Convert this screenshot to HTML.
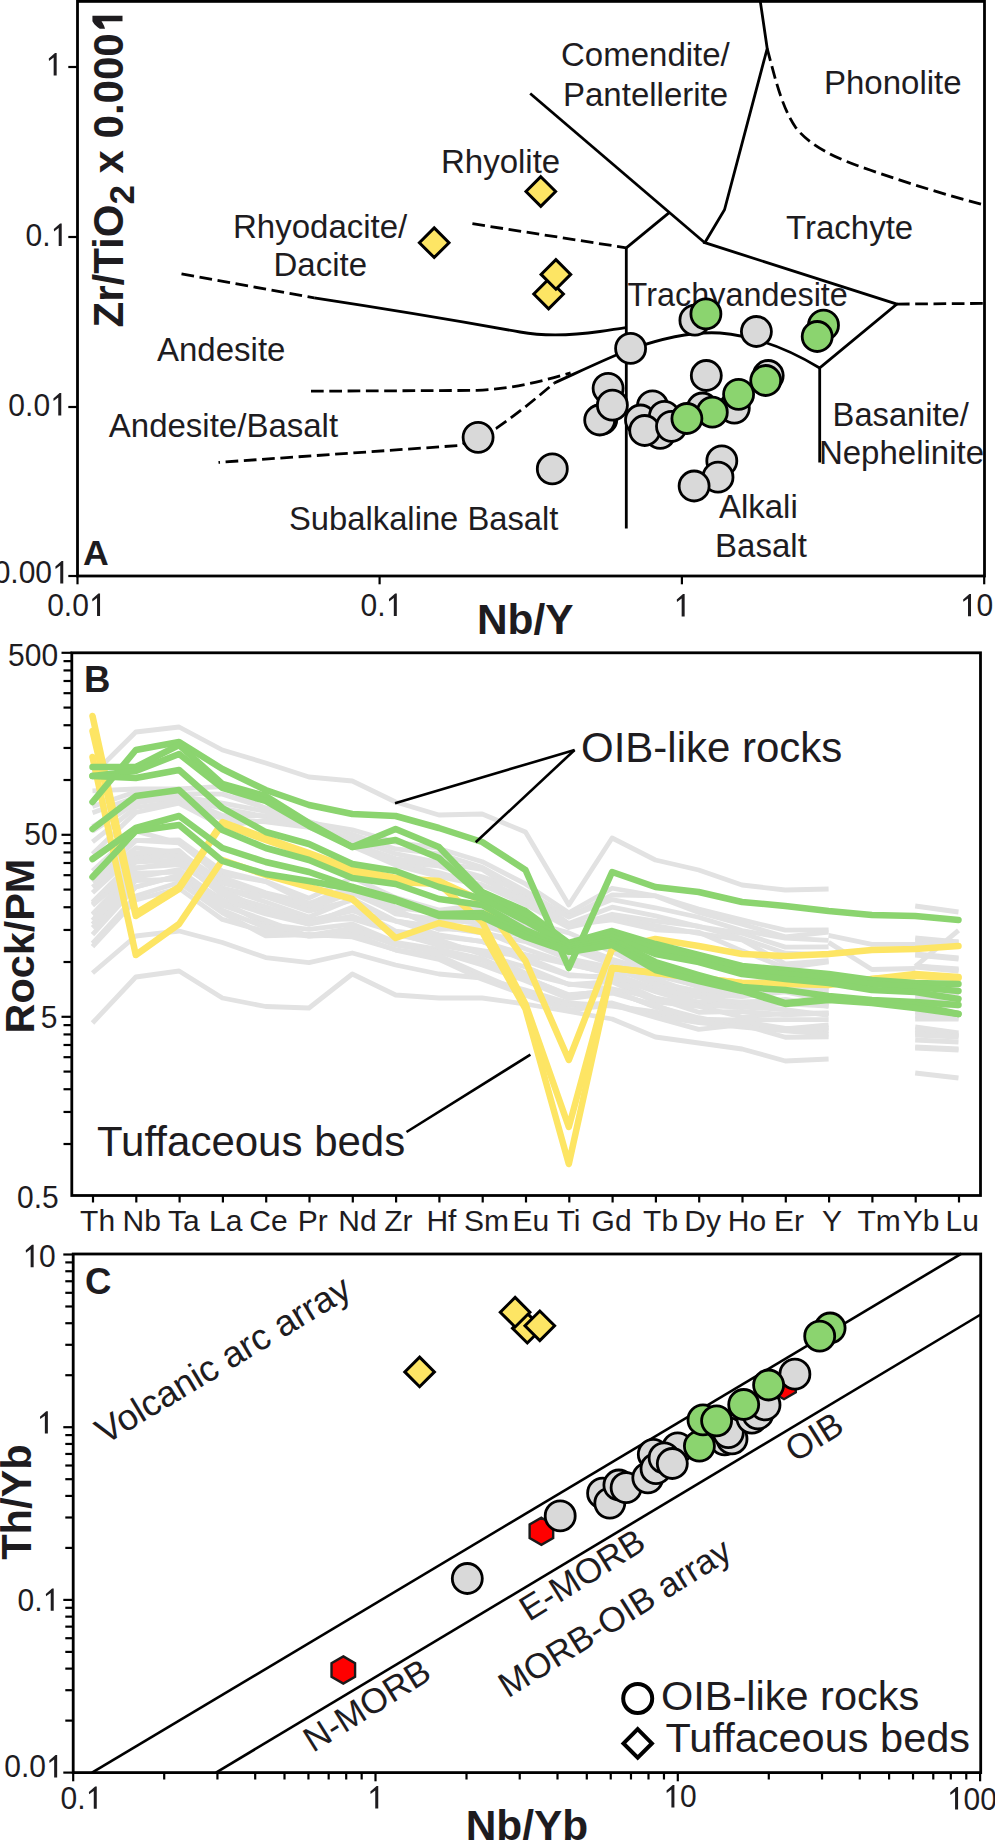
<!DOCTYPE html>
<html><head><meta charset="utf-8"><style>html,body{margin:0;padding:0;background:#fff;} svg{display:block;} text{font-family:"Liberation Sans",sans-serif;}</style></head>
<body>
<svg width="995" height="1840" viewBox="0 0 995 1840" font-family="Liberation Sans, sans-serif">
<rect width="995" height="1840" fill="#fff"/>
<polyline points="530.2,93.5 704.8,242.7" fill="none" stroke="#000" stroke-width="2.8" stroke-linejoin="miter" stroke-linecap="butt"/>
<line x1="669.2" y1="212.6" x2="626.3" y2="247.8" stroke="#000" stroke-width="2.8" stroke-linecap="butt"/>
<line x1="626.3" y1="247.8" x2="626.3" y2="528.5" stroke="#000" stroke-width="2.8" stroke-linecap="butt"/>
<polyline points="760.3,1.4 767.2,48.5 724.5,209.8 704.8,242.7 896.9,304.1 819.7,368 819.7,462.5" fill="none" stroke="#000" stroke-width="2.8" stroke-linejoin="miter" stroke-linecap="butt"/>
<path d="M554.3,383 C585,369 610,357 631,349 C660,339 690,331 720,333 C755,336 790,350 819.7,368" fill="none" stroke="#000" stroke-width="2.8"/>
<path d="M314.2,297.9 C400,311 470,323 520,332 C548,337 575,335 600,331.5 C612,329.8 620,328.5 626.3,327.7" fill="none" stroke="#000" stroke-width="2.8"/>
<polyline points="181.5,273.8 314.2,297.9" fill="none" stroke="#000" stroke-width="2.8" stroke-linejoin="miter" stroke-linecap="butt" stroke-dasharray="12.7 5.6"/>
<polyline points="472.4,223.7 626.3,247.8" fill="none" stroke="#000" stroke-width="2.8" stroke-linejoin="miter" stroke-linecap="butt" stroke-dasharray="12.7 5.6"/>
<path d="M767.2,48.5 C775,78 782,108 796,128 C812,148 840,160 870,170 C910,184 950,196 984,205" fill="none" stroke="#000" stroke-width="2.8" stroke-dasharray="12.7 5.6"/>
<polyline points="896.9,304.1 984.5,303.4" fill="none" stroke="#000" stroke-width="2.8" stroke-linejoin="miter" stroke-linecap="butt" stroke-dasharray="12.7 5.6"/>
<path d="M311,391.2 L477,390.4 C510,389 540,382 570.6,372.9" fill="none" stroke="#000" stroke-width="2.8" stroke-dasharray="12.7 5.6"/>
<path d="M218.5,462.4 L459,445.5 L478,437 L496.5,428.2 C520,412 540,395 554.3,383" fill="none" stroke="#000" stroke-width="2.8" stroke-dasharray="12.7 5.6" stroke-dashoffset="11.2"/>
<rect x="77.5" y="1.4" width="907.0" height="574.6" fill="none" stroke="#000" stroke-width="2.8"/>
<line x1="68.3" y1="67" x2="77.5" y2="67" stroke="#000" stroke-width="2.2" stroke-linecap="butt"/>
<line x1="68.3" y1="237" x2="77.5" y2="237" stroke="#000" stroke-width="2.2" stroke-linecap="butt"/>
<line x1="68.3" y1="407" x2="77.5" y2="407" stroke="#000" stroke-width="2.2" stroke-linecap="butt"/>
<line x1="68.3" y1="576" x2="77.5" y2="576" stroke="#000" stroke-width="2.2" stroke-linecap="butt"/>
<line x1="77.5" y1="576" x2="77.5" y2="584.3" stroke="#000" stroke-width="2.2" stroke-linecap="butt"/>
<line x1="379.6" y1="576" x2="379.6" y2="584.3" stroke="#000" stroke-width="2.2" stroke-linecap="butt"/>
<line x1="681.9" y1="576" x2="681.9" y2="584.3" stroke="#000" stroke-width="2.2" stroke-linecap="butt"/>
<line x1="984.2" y1="576" x2="984.2" y2="584.3" stroke="#000" stroke-width="2.2" stroke-linecap="butt"/>
<polygon points="53.66,75.4 56.66,75.4 56.66,53 55.01,53 48.77,58.5 49.01,60.88 53.66,57.48" fill="#1e1c1f"/>
<text x="0" y="0" font-size="30" fill="#1e1c1f" transform="translate(25.5,245.9) scale(1,1.03)">0.</text>
<polygon points="58.71,245.9 61.71,245.9 61.71,223.5 60.06,223.5 53.82,229 54.06,231.38 58.71,227.98" fill="#1e1c1f"/>
<text x="0" y="0" font-size="30" fill="#1e1c1f" transform="translate(8.37,415.5) scale(1,1.03)">0.0</text>
<polygon points="58.26,415.5 61.26,415.5 61.26,393.1 59.61,393.1 53.37,398.6 53.61,400.98 58.26,397.58" fill="#1e1c1f"/>
<text x="0" y="0" font-size="30" fill="#1e1c1f" transform="translate(-6.31,583.4) scale(1,1.03)">0.00</text>
<polygon points="60.26,583.4 63.26,583.4 63.26,561 61.61,561 55.37,566.5 55.61,568.88 60.26,565.48" fill="#1e1c1f"/>
<text x="0" y="0" font-size="30" fill="#1e1c1f" transform="translate(47.16,616) scale(1,1.03)">0.0</text>
<polygon points="97.05,616 100.05,616 100.05,593.6 98.4,593.6 92.16,599.1 92.4,601.48 97.05,598.08" fill="#1e1c1f"/>
<text x="0" y="0" font-size="30" fill="#1e1c1f" transform="translate(360.6,615.9) scale(1,1.03)">0.</text>
<polygon points="393.81,615.9 396.81,615.9 396.81,593.5 395.16,593.5 388.92,599 389.16,601.38 393.81,597.98" fill="#1e1c1f"/>
<polygon points="681.65,616.5 684.65,616.5 684.65,594.1 683,594.1 676.76,599.6 677,601.98 681.65,598.58" fill="#1e1c1f"/>
<polygon points="968.01,616.3 971.01,616.3 971.01,593.9 969.36,593.9 963.12,599.4 963.36,601.78 968.01,598.38" fill="#1e1c1f"/>
<text x="0" y="0" font-size="30" fill="#1e1c1f" transform="translate(976.5,616.3) scale(1,1.03)">0</text>
<text x="0" y="0" font-size="42" font-weight="bold" text-anchor="middle" fill="#1e1c1f" transform="translate(525.2,634.2) scale(1.01,1)">Nb/Y</text>
<g transform="rotate(-90 122.5 327.5)"><text x="122.5" y="327.5" font-size="42" font-weight="bold" fill="#1e1c1f">Zr/TiO<tspan font-size="35" dy="11.5">2</tspan><tspan dy="-11.5"> x 0.000</tspan></text><polygon points="428.86,327.5 434.24,327.5 434.24,297.43 428.78,297.43 425.84,299.36 422.9,302.3 421.18,304.78 421.18,310.03 424.16,309.02 426.68,307.76 428.86,306.5" fill="#1e1c1f"/></g>
<text x="83" y="565.3" font-size="35.7" font-weight="bold" text-anchor="start" fill="#1e1c1f">A</text>
<text x="561" y="66.3" font-size="33" text-anchor="start" fill="#1e1c1f">Comendite/</text>
<text x="563" y="106.1" font-size="33" text-anchor="start" fill="#1e1c1f">Pantellerite</text>
<text x="824" y="93.5" font-size="33" text-anchor="start" fill="#1e1c1f">Phonolite</text>
<text x="441" y="172.5" font-size="33" text-anchor="start" fill="#1e1c1f">Rhyolite</text>
<text x="233" y="237.6" font-size="33" text-anchor="start" fill="#1e1c1f">Rhyodacite/</text>
<text x="273.5" y="275.8" font-size="33" text-anchor="start" fill="#1e1c1f">Dacite</text>
<text x="786" y="239.2" font-size="33" text-anchor="start" fill="#1e1c1f">Trachyte</text>
<text x="627.6" y="306.2" font-size="32.4" text-anchor="start" fill="#1e1c1f">Trachyandesite</text>
<text x="157" y="360.5" font-size="33" text-anchor="start" fill="#1e1c1f">Andesite</text>
<text x="108.8" y="437.2" font-size="33" text-anchor="start" fill="#1e1c1f">Andesite/Basalt</text>
<text x="289" y="529.9" font-size="32.75" text-anchor="start" fill="#1e1c1f">Subalkaline Basalt</text>
<text x="832.6" y="426" font-size="32.7" text-anchor="start" fill="#1e1c1f">Basanite/</text>
<text x="818.9" y="463.5" font-size="33" text-anchor="start" fill="#1e1c1f">Nephelinite</text>
<text x="718.9" y="517.7" font-size="33" text-anchor="start" fill="#1e1c1f">Alkali</text>
<text x="715.1" y="557.3" font-size="33" text-anchor="start" fill="#1e1c1f">Basalt</text>
<circle cx="478.1" cy="437.3" r="15" fill="#d9d9d9" stroke="#000" stroke-width="2.8"/>
<circle cx="552.3" cy="468.9" r="15" fill="#d9d9d9" stroke="#000" stroke-width="2.8"/>
<circle cx="694.9" cy="320.2" r="15" fill="#d9d9d9" stroke="#000" stroke-width="2.8"/>
<circle cx="756.4" cy="331.5" r="15" fill="#d9d9d9" stroke="#000" stroke-width="2.8"/>
<circle cx="630.6" cy="348.4" r="15" fill="#d9d9d9" stroke="#000" stroke-width="2.8"/>
<circle cx="706.3" cy="375.5" r="15" fill="#d9d9d9" stroke="#000" stroke-width="2.8"/>
<circle cx="768.2" cy="375.5" r="15" fill="#d9d9d9" stroke="#000" stroke-width="2.8"/>
<circle cx="608.1" cy="388.3" r="15" fill="#d9d9d9" stroke="#000" stroke-width="2.8"/>
<circle cx="601.8" cy="419.2" r="15" fill="#d9d9d9" stroke="#000" stroke-width="2.8"/>
<circle cx="599.7" cy="420" r="15" fill="#d9d9d9" stroke="#000" stroke-width="2.8"/>
<circle cx="612.4" cy="405.2" r="15" fill="#d9d9d9" stroke="#000" stroke-width="2.8"/>
<circle cx="652.5" cy="405.9" r="15" fill="#d9d9d9" stroke="#000" stroke-width="2.8"/>
<circle cx="640.5" cy="420" r="15" fill="#d9d9d9" stroke="#000" stroke-width="2.8"/>
<circle cx="660.2" cy="433.3" r="15" fill="#d9d9d9" stroke="#000" stroke-width="2.8"/>
<circle cx="664.4" cy="416.4" r="15" fill="#d9d9d9" stroke="#000" stroke-width="2.8"/>
<circle cx="644.7" cy="430.5" r="15" fill="#d9d9d9" stroke="#000" stroke-width="2.8"/>
<circle cx="671.5" cy="426.3" r="15" fill="#d9d9d9" stroke="#000" stroke-width="2.8"/>
<circle cx="702.4" cy="408" r="15" fill="#d9d9d9" stroke="#000" stroke-width="2.8"/>
<circle cx="734.3" cy="408.1" r="15" fill="#d9d9d9" stroke="#000" stroke-width="2.8"/>
<circle cx="721.8" cy="460.9" r="15" fill="#d9d9d9" stroke="#000" stroke-width="2.8"/>
<circle cx="718" cy="477.2" r="15" fill="#d9d9d9" stroke="#000" stroke-width="2.8"/>
<circle cx="694.1" cy="486" r="15" fill="#d9d9d9" stroke="#000" stroke-width="2.8"/>
<circle cx="705.9" cy="313.9" r="15" fill="#8bd46f" stroke="#000" stroke-width="2.8"/>
<circle cx="823.5" cy="325.2" r="15" fill="#8bd46f" stroke="#000" stroke-width="2.8"/>
<circle cx="817.2" cy="336.5" r="15" fill="#8bd46f" stroke="#000" stroke-width="2.8"/>
<circle cx="765.7" cy="380.5" r="15" fill="#8bd46f" stroke="#000" stroke-width="2.8"/>
<circle cx="738.6" cy="394.3" r="15" fill="#8bd46f" stroke="#000" stroke-width="2.8"/>
<circle cx="712.3" cy="412.2" r="15" fill="#8bd46f" stroke="#000" stroke-width="2.8"/>
<circle cx="686.9" cy="418.5" r="15" fill="#8bd46f" stroke="#000" stroke-width="2.8"/>
<path d="M540.8,176.7 L555.6,191.5 L540.8,206.3 L526,191.5 Z" fill="#fde564" stroke="#000" stroke-width="3" stroke-linejoin="miter"/>
<path d="M434.2,227.9 L449,242.7 L434.2,257.5 L419.4,242.7 Z" fill="#fde564" stroke="#000" stroke-width="3" stroke-linejoin="miter"/>
<path d="M548.6,279.2 L563.4,294 L548.6,308.8 L533.8,294 Z" fill="#fde564" stroke="#000" stroke-width="3" stroke-linejoin="miter"/>
<path d="M555.9,259.6 L570.7,274.4 L555.9,289.2 L541.1,274.4 Z" fill="#fde564" stroke="#000" stroke-width="3" stroke-linejoin="miter"/>
<polyline points="92.5,775 135.8,732 179.1,727 222.4,750 265.7,763 309,777 352.3,781 395.6,802 438.9,815 482.2,814 525.5,832 568.8,905 612.1,838 655.4,860 698.7,870 742,885 785.3,890 828.6,889" fill="none" stroke="#e2e2e2" stroke-width="4.8" stroke-linejoin="round" stroke-linecap="butt"/>
<polyline points="915.2,906 958.5,912" fill="none" stroke="#e2e2e2" stroke-width="4.8" stroke-linejoin="round" stroke-linecap="butt"/>
<polyline points="92.5,1023 135.8,977 179.1,971 222.4,998 265.7,1006.5 309,1008 352.3,974 395.6,995 438.9,998 482.2,998 525.5,1004 568.8,1011.5 612.1,1019 655.4,1037 698.7,1043 742,1049 785.3,1061 828.6,1059" fill="none" stroke="#e2e2e2" stroke-width="4.8" stroke-linejoin="round" stroke-linecap="butt"/>
<polyline points="915.2,1073 958.5,1078" fill="none" stroke="#e2e2e2" stroke-width="4.8" stroke-linejoin="round" stroke-linecap="butt"/>
<polyline points="92.5,973 135.8,936 179.1,931 222.4,942.5 265.7,957.6 309,962.7 352.3,953 395.6,965 438.9,974 482.2,978 525.5,990 568.8,1003 612.1,1006 655.4,1012 698.7,1020 742,1026 785.3,1030 828.6,1030" fill="none" stroke="#e2e2e2" stroke-width="4.8" stroke-linejoin="round" stroke-linecap="butt"/>
<polyline points="915.2,1040 958.5,1042" fill="none" stroke="#e2e2e2" stroke-width="4.8" stroke-linejoin="round" stroke-linecap="butt"/>
<polyline points="92.5,790.8 135.8,788.99 179.1,788.78 222.4,786.51 265.7,808.57 309,822.5 352.3,829.75 395.6,842.2 438.9,848.44 482.2,861.68 525.5,883.92 568.8,912.73 612.1,888.25 655.4,895.76 698.7,908.99 742,919.93 785.3,930.16 828.6,929.8" fill="none" stroke="#e2e2e2" stroke-width="4.8" stroke-linejoin="round" stroke-linecap="butt"/>
<polyline points="915.2,938 958.5,942" fill="none" stroke="#e2e2e2" stroke-width="4.8" stroke-linejoin="round" stroke-linecap="butt"/>
<polyline points="92.5,806.45 135.8,791.73 179.1,793.58 222.4,794.1 265.7,808.01 309,821.66 352.3,834.32 395.6,848.96 438.9,853.87 482.2,867.3 525.5,891.18 568.8,916.98 612.1,894.95 655.4,895.93 698.7,912.48 742,924.08 785.3,936.87 828.6,932.06" fill="none" stroke="#e2e2e2" stroke-width="4.8" stroke-linejoin="round" stroke-linecap="butt"/>
<polyline points="915.2,940 958.5,943" fill="none" stroke="#e2e2e2" stroke-width="4.8" stroke-linejoin="round" stroke-linecap="butt"/>
<polyline points="92.5,812.7 135.8,797.33 179.1,796.21 222.4,803.23 265.7,811.38 309,826.45 352.3,838.63 395.6,853.72 438.9,862.55 482.2,869.37 525.5,896.63 568.8,916.94 612.1,899.63 655.4,907.77 698.7,917.22 742,930.63 785.3,938.03 828.6,940.42" fill="none" stroke="#e2e2e2" stroke-width="4.8" stroke-linejoin="round" stroke-linecap="butt"/>
<polyline points="915.2,954 958.5,958" fill="none" stroke="#e2e2e2" stroke-width="4.8" stroke-linejoin="round" stroke-linecap="butt"/>
<polyline points="92.5,826.5 135.8,801.01 179.1,798.56 222.4,808.25 265.7,816.64 309,826.65 352.3,843.72 395.6,858.56 438.9,864.79 482.2,876.81 525.5,891.99 568.8,923.61 612.1,907.18 655.4,915.94 698.7,926.58 742,933.28 785.3,947.09 828.6,946.85" fill="none" stroke="#e2e2e2" stroke-width="4.8" stroke-linejoin="round" stroke-linecap="butt"/>
<polyline points="915.2,955 958.5,959" fill="none" stroke="#e2e2e2" stroke-width="4.8" stroke-linejoin="round" stroke-linecap="butt"/>
<polyline points="92.5,831.27 135.8,803.01 179.1,796.61 222.4,815.5 265.7,815.61 309,826.12 352.3,842.7 395.6,862.26 438.9,865.93 482.2,879.52 525.5,898.61 568.8,927.07 612.1,914.27 655.4,921.2 698.7,926.23 742,938.61 785.3,953.16 828.6,955" fill="none" stroke="#e2e2e2" stroke-width="4.8" stroke-linejoin="round" stroke-linecap="butt"/>
<polyline points="915.2,966 958.5,970" fill="none" stroke="#e2e2e2" stroke-width="4.8" stroke-linejoin="round" stroke-linecap="butt"/>
<polyline points="92.5,841.77 135.8,807.5 179.1,801.15 222.4,819.09 265.7,821.86 309,827.39 352.3,842.18 395.6,862.92 438.9,872.53 482.2,884.89 525.5,904.55 568.8,927.52 612.1,917.55 655.4,925.51 698.7,933.41 742,940 785.3,963.77 828.6,960.6" fill="none" stroke="#e2e2e2" stroke-width="4.8" stroke-linejoin="round" stroke-linecap="butt"/>
<polyline points="915.2,967 958.5,971" fill="none" stroke="#e2e2e2" stroke-width="4.8" stroke-linejoin="round" stroke-linecap="butt"/>
<polyline points="92.5,853.92 135.8,812.41 179.1,803.26 222.4,826.15 265.7,820.21 309,826.97 352.3,846.38 395.6,865.16 438.9,876.58 482.2,885.21 525.5,899.64 568.8,925.21 612.1,919.95 655.4,929.77 698.7,932.2 742,950.85 785.3,967.77 828.6,961.97" fill="none" stroke="#e2e2e2" stroke-width="4.8" stroke-linejoin="round" stroke-linecap="butt"/>
<polyline points="915.2,966 958.5,969" fill="none" stroke="#e2e2e2" stroke-width="4.8" stroke-linejoin="round" stroke-linecap="butt"/>
<polyline points="92.5,870.94 135.8,831.14 179.1,842.96 222.4,874.43 265.7,881.31 309,898.16 352.3,877.62 395.6,897.58 438.9,910.04 482.2,904.79 525.5,920.7 568.8,932.88 612.1,951.7 655.4,973.95 698.7,979.84 742,982.82 785.3,980.14 828.6,976.92" fill="none" stroke="#e2e2e2" stroke-width="4.8" stroke-linejoin="round" stroke-linecap="butt"/>
<polyline points="915.2,986 958.5,990" fill="none" stroke="#e2e2e2" stroke-width="4.8" stroke-linejoin="round" stroke-linecap="butt"/>
<polyline points="92.5,880.52 135.8,840.7 179.1,840.02 222.4,871.17 265.7,881.61 309,903.69 352.3,885.62 395.6,907.47 438.9,913.15 482.2,908.67 525.5,925.35 568.8,945.64 612.1,962.94 655.4,975.38 698.7,985.86 742,991.46 785.3,980.39 828.6,985.12" fill="none" stroke="#e2e2e2" stroke-width="4.8" stroke-linejoin="round" stroke-linecap="butt"/>
<polyline points="915.2,989 958.5,993" fill="none" stroke="#e2e2e2" stroke-width="4.8" stroke-linejoin="round" stroke-linecap="butt"/>
<polyline points="92.5,876.75 135.8,840.35 179.1,842.94 222.4,877.43 265.7,892.8 309,903.09 352.3,893.19 395.6,912.67 438.9,922.64 482.2,914.38 525.5,924.26 568.8,942.59 612.1,959.32 655.4,972.25 698.7,987.03 742,995.77 785.3,989.93 828.6,988.03" fill="none" stroke="#e2e2e2" stroke-width="4.8" stroke-linejoin="round" stroke-linecap="butt"/>
<polyline points="915.2,992 958.5,996" fill="none" stroke="#e2e2e2" stroke-width="4.8" stroke-linejoin="round" stroke-linecap="butt"/>
<polyline points="92.5,881.91 135.8,847.99 179.1,852.39 222.4,881.32 265.7,894.03 309,906.05 352.3,889.14 395.6,913.8 438.9,919.65 482.2,923.04 525.5,936.6 568.8,948.81 612.1,964.31 655.4,982.56 698.7,991.16 742,991.17 785.3,986.21 828.6,988.04" fill="none" stroke="#e2e2e2" stroke-width="4.8" stroke-linejoin="round" stroke-linecap="butt"/>
<polyline points="915.2,995 958.5,999" fill="none" stroke="#e2e2e2" stroke-width="4.8" stroke-linejoin="round" stroke-linecap="butt"/>
<polyline points="92.5,887.11 135.8,853.47 179.1,856.04 222.4,883.07 265.7,893.33 309,909.4 352.3,892.19 395.6,909.17 438.9,929.27 482.2,925.82 525.5,936.97 568.8,958.72 612.1,967.57 655.4,984.69 698.7,995.29 742,994.29 785.3,990.87 828.6,992.75" fill="none" stroke="#e2e2e2" stroke-width="4.8" stroke-linejoin="round" stroke-linecap="butt"/>
<polyline points="915.2,998 958.5,1002" fill="none" stroke="#e2e2e2" stroke-width="4.8" stroke-linejoin="round" stroke-linecap="butt"/>
<polyline points="92.5,892.83 135.8,853.22 179.1,850.49 222.4,888.6 265.7,896.66 309,911.14 352.3,900.25 395.6,921.19 438.9,927 482.2,932.79 525.5,941.55 568.8,959.23 612.1,971.41 655.4,979.04 698.7,994.55 742,996.71 785.3,991.8 828.6,1001.11" fill="none" stroke="#e2e2e2" stroke-width="4.8" stroke-linejoin="round" stroke-linecap="butt"/>
<polyline points="915.2,1001 958.5,1004" fill="none" stroke="#e2e2e2" stroke-width="4.8" stroke-linejoin="round" stroke-linecap="butt"/>
<polyline points="92.5,902.08 135.8,858.42 179.1,855.38 222.4,887.68 265.7,901.97 309,917.05 352.3,899 395.6,920.87 438.9,928.51 482.2,930.68 525.5,949.08 568.8,963.52 612.1,974.73 655.4,989.34 698.7,1002.39 742,1002.02 785.3,1001.3 828.6,1001.47" fill="none" stroke="#e2e2e2" stroke-width="4.8" stroke-linejoin="round" stroke-linecap="butt"/>
<polyline points="915.2,1004 958.5,1006" fill="none" stroke="#e2e2e2" stroke-width="4.8" stroke-linejoin="round" stroke-linecap="butt"/>
<polyline points="92.5,903.94 135.8,862.01 179.1,859.84 222.4,894.92 265.7,906.7 309,920.62 352.3,910.89 395.6,920.98 438.9,934.86 482.2,941.64 525.5,954.58 568.8,964.34 612.1,973.28 655.4,989.04 698.7,997.11 742,1002.7 785.3,999.32 828.6,1006.4" fill="none" stroke="#e2e2e2" stroke-width="4.8" stroke-linejoin="round" stroke-linecap="butt"/>
<polyline points="915.2,1009 958.5,1016" fill="none" stroke="#e2e2e2" stroke-width="4.8" stroke-linejoin="round" stroke-linecap="butt"/>
<polyline points="92.5,905.54 135.8,867.66 179.1,864.6 222.4,889.93 265.7,911.83 309,924.18 352.3,907.2 395.6,931.03 438.9,936.48 482.2,941.37 525.5,960.9 568.8,975.82 612.1,976.61 655.4,991.82 698.7,1004.66 742,1006.39 785.3,1003.96 828.6,1006.19" fill="none" stroke="#e2e2e2" stroke-width="4.8" stroke-linejoin="round" stroke-linecap="butt"/>
<polyline points="915.2,1012 958.5,1017" fill="none" stroke="#e2e2e2" stroke-width="4.8" stroke-linejoin="round" stroke-linecap="butt"/>
<polyline points="92.5,914.13 135.8,868.73 179.1,861.12 222.4,894.81 265.7,912.53 309,922.27 352.3,909.17 395.6,934.47 438.9,943.62 482.2,950.51 525.5,956.87 568.8,974.69 612.1,978.34 655.4,998.17 698.7,1005.32 742,1007 785.3,1009.63 828.6,1015.41" fill="none" stroke="#e2e2e2" stroke-width="4.8" stroke-linejoin="round" stroke-linecap="butt"/>
<polyline points="915.2,1016 958.5,1018" fill="none" stroke="#e2e2e2" stroke-width="4.8" stroke-linejoin="round" stroke-linecap="butt"/>
<polyline points="92.5,914.67 135.8,877.34 179.1,869.59 222.4,901.5 265.7,910.48 309,920.37 352.3,918.94 395.6,931.99 438.9,939.69 482.2,954.47 525.5,966.99 568.8,984.58 612.1,981.72 655.4,1001.83 698.7,1006.4 742,1017.04 785.3,1013.36 828.6,1012.98" fill="none" stroke="#e2e2e2" stroke-width="4.8" stroke-linejoin="round" stroke-linecap="butt"/>
<polyline points="915.2,1019 958.5,1019" fill="none" stroke="#e2e2e2" stroke-width="4.8" stroke-linejoin="round" stroke-linecap="butt"/>
<polyline points="92.5,920.44 135.8,873.26 179.1,872.09 222.4,899.88 265.7,913.98 309,924.06 352.3,916.09 395.6,932.87 438.9,945.33 482.2,952.43 525.5,973.07 568.8,983.99 612.1,988.82 655.4,997.93 698.7,1012.32 742,1011.3 785.3,1014.74 828.6,1013.04" fill="none" stroke="#e2e2e2" stroke-width="4.8" stroke-linejoin="round" stroke-linecap="butt"/>
<polyline points="915.2,1027 958.5,1033" fill="none" stroke="#e2e2e2" stroke-width="4.8" stroke-linejoin="round" stroke-linecap="butt"/>
<polyline points="92.5,924.25 135.8,880.54 179.1,879.11 222.4,901.56 265.7,924.37 309,929.41 352.3,924.07 395.6,942.32 438.9,949.37 482.2,958.74 525.5,977.17 568.8,995.44 612.1,990.19 655.4,1007.35 698.7,1019.04 742,1020.18 785.3,1019.69 828.6,1019.65" fill="none" stroke="#e2e2e2" stroke-width="4.8" stroke-linejoin="round" stroke-linecap="butt"/>
<polyline points="915.2,1030 958.5,1035" fill="none" stroke="#e2e2e2" stroke-width="4.8" stroke-linejoin="round" stroke-linecap="butt"/>
<polyline points="92.5,927.65 135.8,887.03 179.1,875.26 222.4,905.13 265.7,920.32 309,936.15 352.3,931.35 395.6,943.79 438.9,951.5 482.2,960.39 525.5,978.05 568.8,994.74 612.1,991.28 655.4,1006.37 698.7,1017.72 742,1026.15 785.3,1028.79 828.6,1024.94" fill="none" stroke="#e2e2e2" stroke-width="4.8" stroke-linejoin="round" stroke-linecap="butt"/>
<polyline points="915.2,1033 958.5,1036" fill="none" stroke="#e2e2e2" stroke-width="4.8" stroke-linejoin="round" stroke-linecap="butt"/>
<polyline points="92.5,934.62 135.8,887.01 179.1,875.66 222.4,910.32 265.7,927.51 309,935.41 352.3,928.19 395.6,945.25 438.9,951.96 482.2,964.91 525.5,980.84 568.8,998.67 612.1,993.06 655.4,1005.02 698.7,1021.25 742,1021.56 785.3,1028.33 828.6,1028.06" fill="none" stroke="#e2e2e2" stroke-width="4.8" stroke-linejoin="round" stroke-linecap="butt"/>
<polyline points="915.2,1035 958.5,1037" fill="none" stroke="#e2e2e2" stroke-width="4.8" stroke-linejoin="round" stroke-linecap="butt"/>
<polyline points="92.5,943.28 135.8,896.06 179.1,882.48 222.4,912.76 265.7,935.91 309,934.52 352.3,936.95 395.6,949.76 438.9,955.58 482.2,974.91 525.5,993.68 568.8,1005.48 612.1,1002.93 655.4,1015.8 698.7,1022.72 742,1027.18 785.3,1030.93 828.6,1034.41" fill="none" stroke="#e2e2e2" stroke-width="4.8" stroke-linejoin="round" stroke-linecap="butt"/>
<polyline points="915.2,1047 958.5,1049" fill="none" stroke="#e2e2e2" stroke-width="4.8" stroke-linejoin="round" stroke-linecap="butt"/>
<polyline points="92.5,946.55 135.8,900.02 179.1,888.36 222.4,919.43 265.7,931.65 309,935.99 352.3,934.57 395.6,950.05 438.9,959.43 482.2,979.21 525.5,995.17 568.8,1010.01 612.1,1004.79 655.4,1017.37 698.7,1029.33 742,1024.68 785.3,1037.27 828.6,1036.84" fill="none" stroke="#e2e2e2" stroke-width="4.8" stroke-linejoin="round" stroke-linecap="butt"/>
<polyline points="915.2,1048 958.5,1050" fill="none" stroke="#e2e2e2" stroke-width="4.8" stroke-linejoin="round" stroke-linecap="butt"/>
<polyline points="828.6,935.4 871.9,944.4 915.2,944.4 958.5,942" fill="none" stroke="#e2e2e2" stroke-width="4.8" stroke-linejoin="round" stroke-linecap="butt"/>
<polyline points="828.6,942.4 871.9,969.5 915.2,968.5" fill="none" stroke="#e2e2e2" stroke-width="4.8" stroke-linejoin="round" stroke-linecap="butt"/>
<polyline points="915.2,966.5 958.5,930.4" fill="none" stroke="#e2e2e2" stroke-width="4.8" stroke-linejoin="round" stroke-linecap="butt"/>
<polyline points="92.5,716 135.8,913 179.1,887 222.4,822 265.7,838 309,853 352.3,869 395.6,878 438.9,881 482.2,901 525.5,961 568.8,1060 612.1,949 655.4,939 698.7,946 742,954 785.3,956 828.6,954 871.9,950 915.2,949 958.5,946" fill="none" stroke="#fde564" stroke-width="6.5" stroke-linejoin="round" stroke-linecap="round"/>
<polyline points="92.5,731 135.8,916 179.1,889 222.4,824 265.7,840 309,855 352.3,872 395.6,882 438.9,884 482.2,922 525.5,1004 568.8,1127 612.1,968 655.4,973 698.7,978 742,983 785.3,983 828.6,984 871.9,979 915.2,974 958.5,977" fill="none" stroke="#fde564" stroke-width="6.5" stroke-linejoin="round" stroke-linecap="round"/>
<polyline points="92.5,757 135.8,955 179.1,924 222.4,860 265.7,875 309,887 352.3,899 395.6,938 438.9,923 482.2,932 525.5,1009 568.8,1164 612.1,968 655.4,973 698.7,978 742,983 785.3,984 828.6,985 871.9,979 915.2,976 958.5,978" fill="none" stroke="#fde564" stroke-width="6.5" stroke-linejoin="round" stroke-linecap="round"/>
<polyline points="92.5,802 135.8,750 179.1,742 222.4,769 265.7,790 309,805 352.3,814 395.6,816 438.9,828 482.2,842 525.5,870 568.8,968 612.1,872 655.4,887 698.7,892 742,902 785.3,906 828.6,911 871.9,915 915.2,916 958.5,920" fill="none" stroke="#8bd46f" stroke-width="6.5" stroke-linejoin="round" stroke-linecap="round"/>
<polyline points="92.5,767 135.8,767 179.1,745 222.4,784 265.7,796 309,823 352.3,847 395.6,829 438.9,847 482.2,892 525.5,911 568.8,943 612.1,931 655.4,944 698.7,955 742,966 785.3,970 828.6,974 871.9,980 915.2,983 958.5,984" fill="none" stroke="#8bd46f" stroke-width="6.5" stroke-linejoin="round" stroke-linecap="round"/>
<polyline points="92.5,776 135.8,771 179.1,754 222.4,788 265.7,801 309,826 352.3,847 395.6,840 438.9,858 482.2,896 525.5,915 568.8,945 612.1,934 655.4,949 698.7,958 742,970 785.3,974 828.6,978 871.9,984 915.2,987 958.5,991" fill="none" stroke="#8bd46f" stroke-width="6.5" stroke-linejoin="round" stroke-linecap="round"/>
<polyline points="92.5,776 135.8,778 179.1,770 222.4,808 265.7,832 309,844 352.3,864 395.6,871 438.9,887 482.2,899 525.5,921 568.8,946 612.1,937 655.4,954 698.7,962 742,974 785.3,979 828.6,983 871.9,990 915.2,992 958.5,999" fill="none" stroke="#8bd46f" stroke-width="6.5" stroke-linejoin="round" stroke-linecap="round"/>
<polyline points="92.5,829 135.8,796 179.1,790 222.4,830 265.7,848 309,860 352.3,878 395.6,884 438.9,899 482.2,905 525.5,930 568.8,948 612.1,940 655.4,962 698.7,975 742,987 785.3,990 828.6,996 871.9,1000 915.2,1002 958.5,1005" fill="none" stroke="#8bd46f" stroke-width="6.5" stroke-linejoin="round" stroke-linecap="round"/>
<polyline points="92.5,859 135.8,828 179.1,816 222.4,848 265.7,862 309,872 352.3,887 395.6,899 438.9,914 482.2,913 525.5,934 568.8,950 612.1,943 655.4,966 698.7,978 742,989 785.3,1003 828.6,999 871.9,1001 915.2,1005 958.5,1014" fill="none" stroke="#8bd46f" stroke-width="6.5" stroke-linejoin="round" stroke-linecap="round"/>
<polyline points="92.5,877 135.8,831 179.1,825 222.4,861 265.7,874 309,881 352.3,889 395.6,901 438.9,916 482.2,917 525.5,937 568.8,952 612.1,945 655.4,970 698.7,981 742,991 785.3,1004 828.6,1000 871.9,1003 915.2,1008 958.5,1014" fill="none" stroke="#8bd46f" stroke-width="6.5" stroke-linejoin="round" stroke-linecap="round"/>
<line x1="395" y1="803.2" x2="574.6" y2="750" stroke="#000" stroke-width="2.6" stroke-linecap="butt"/>
<line x1="475.7" y1="842.3" x2="574.6" y2="750" stroke="#000" stroke-width="2.6" stroke-linecap="butt"/>
<line x1="406.5" y1="1132" x2="530.4" y2="1054.6" stroke="#000" stroke-width="2.6" stroke-linecap="butt"/>
<text x="581" y="762.4" font-size="42" text-anchor="start" fill="#1e1c1f">OIB-like rocks</text>
<text x="97" y="1156.4" font-size="42" text-anchor="start" fill="#1e1c1f">Tuffaceous beds</text>
<rect x="71.8" y="652.8" width="908.7" height="542.7" fill="none" stroke="#000" stroke-width="2.8"/>
<line x1="61.5" y1="834.8" x2="71.8" y2="834.8" stroke="#000" stroke-width="2.2" stroke-linecap="butt"/>
<line x1="63.5" y1="780.01" x2="71.8" y2="780.01" stroke="#000" stroke-width="2.2" stroke-linecap="butt"/>
<line x1="63.5" y1="747.96" x2="71.8" y2="747.96" stroke="#000" stroke-width="2.2" stroke-linecap="butt"/>
<line x1="63.5" y1="725.23" x2="71.8" y2="725.23" stroke="#000" stroke-width="2.2" stroke-linecap="butt"/>
<line x1="63.5" y1="707.59" x2="71.8" y2="707.59" stroke="#000" stroke-width="2.2" stroke-linecap="butt"/>
<line x1="63.5" y1="693.18" x2="71.8" y2="693.18" stroke="#000" stroke-width="2.2" stroke-linecap="butt"/>
<line x1="63.5" y1="680.99" x2="71.8" y2="680.99" stroke="#000" stroke-width="2.2" stroke-linecap="butt"/>
<line x1="63.5" y1="670.44" x2="71.8" y2="670.44" stroke="#000" stroke-width="2.2" stroke-linecap="butt"/>
<line x1="63.5" y1="661.13" x2="71.8" y2="661.13" stroke="#000" stroke-width="2.2" stroke-linecap="butt"/>
<line x1="61.5" y1="1016.8" x2="71.8" y2="1016.8" stroke="#000" stroke-width="2.2" stroke-linecap="butt"/>
<line x1="63.5" y1="962.01" x2="71.8" y2="962.01" stroke="#000" stroke-width="2.2" stroke-linecap="butt"/>
<line x1="63.5" y1="929.96" x2="71.8" y2="929.96" stroke="#000" stroke-width="2.2" stroke-linecap="butt"/>
<line x1="63.5" y1="907.23" x2="71.8" y2="907.23" stroke="#000" stroke-width="2.2" stroke-linecap="butt"/>
<line x1="63.5" y1="889.59" x2="71.8" y2="889.59" stroke="#000" stroke-width="2.2" stroke-linecap="butt"/>
<line x1="63.5" y1="875.18" x2="71.8" y2="875.18" stroke="#000" stroke-width="2.2" stroke-linecap="butt"/>
<line x1="63.5" y1="862.99" x2="71.8" y2="862.99" stroke="#000" stroke-width="2.2" stroke-linecap="butt"/>
<line x1="63.5" y1="852.44" x2="71.8" y2="852.44" stroke="#000" stroke-width="2.2" stroke-linecap="butt"/>
<line x1="63.5" y1="843.13" x2="71.8" y2="843.13" stroke="#000" stroke-width="2.2" stroke-linecap="butt"/>
<line x1="63.5" y1="1144.01" x2="71.8" y2="1144.01" stroke="#000" stroke-width="2.2" stroke-linecap="butt"/>
<line x1="63.5" y1="1111.96" x2="71.8" y2="1111.96" stroke="#000" stroke-width="2.2" stroke-linecap="butt"/>
<line x1="63.5" y1="1089.23" x2="71.8" y2="1089.23" stroke="#000" stroke-width="2.2" stroke-linecap="butt"/>
<line x1="63.5" y1="1071.59" x2="71.8" y2="1071.59" stroke="#000" stroke-width="2.2" stroke-linecap="butt"/>
<line x1="63.5" y1="1057.18" x2="71.8" y2="1057.18" stroke="#000" stroke-width="2.2" stroke-linecap="butt"/>
<line x1="63.5" y1="1044.99" x2="71.8" y2="1044.99" stroke="#000" stroke-width="2.2" stroke-linecap="butt"/>
<line x1="63.5" y1="1034.44" x2="71.8" y2="1034.44" stroke="#000" stroke-width="2.2" stroke-linecap="butt"/>
<line x1="63.5" y1="1025.13" x2="71.8" y2="1025.13" stroke="#000" stroke-width="2.2" stroke-linecap="butt"/>
<line x1="61.5" y1="652.8" x2="71.8" y2="652.8" stroke="#000" stroke-width="2.2" stroke-linecap="butt"/>
<line x1="93" y1="1195.5" x2="93" y2="1202.5" stroke="#000" stroke-width="2.2" stroke-linecap="butt"/>
<line x1="136.3" y1="1195.5" x2="136.3" y2="1202.5" stroke="#000" stroke-width="2.2" stroke-linecap="butt"/>
<line x1="179.6" y1="1195.5" x2="179.6" y2="1202.5" stroke="#000" stroke-width="2.2" stroke-linecap="butt"/>
<line x1="222.9" y1="1195.5" x2="222.9" y2="1202.5" stroke="#000" stroke-width="2.2" stroke-linecap="butt"/>
<line x1="266.2" y1="1195.5" x2="266.2" y2="1202.5" stroke="#000" stroke-width="2.2" stroke-linecap="butt"/>
<line x1="309.5" y1="1195.5" x2="309.5" y2="1202.5" stroke="#000" stroke-width="2.2" stroke-linecap="butt"/>
<line x1="352.8" y1="1195.5" x2="352.8" y2="1202.5" stroke="#000" stroke-width="2.2" stroke-linecap="butt"/>
<line x1="396.1" y1="1195.5" x2="396.1" y2="1202.5" stroke="#000" stroke-width="2.2" stroke-linecap="butt"/>
<line x1="439.4" y1="1195.5" x2="439.4" y2="1202.5" stroke="#000" stroke-width="2.2" stroke-linecap="butt"/>
<line x1="482.7" y1="1195.5" x2="482.7" y2="1202.5" stroke="#000" stroke-width="2.2" stroke-linecap="butt"/>
<line x1="526" y1="1195.5" x2="526" y2="1202.5" stroke="#000" stroke-width="2.2" stroke-linecap="butt"/>
<line x1="569.3" y1="1195.5" x2="569.3" y2="1202.5" stroke="#000" stroke-width="2.2" stroke-linecap="butt"/>
<line x1="612.6" y1="1195.5" x2="612.6" y2="1202.5" stroke="#000" stroke-width="2.2" stroke-linecap="butt"/>
<line x1="655.9" y1="1195.5" x2="655.9" y2="1202.5" stroke="#000" stroke-width="2.2" stroke-linecap="butt"/>
<line x1="699.2" y1="1195.5" x2="699.2" y2="1202.5" stroke="#000" stroke-width="2.2" stroke-linecap="butt"/>
<line x1="742.5" y1="1195.5" x2="742.5" y2="1202.5" stroke="#000" stroke-width="2.2" stroke-linecap="butt"/>
<line x1="785.8" y1="1195.5" x2="785.8" y2="1202.5" stroke="#000" stroke-width="2.2" stroke-linecap="butt"/>
<line x1="829.1" y1="1195.5" x2="829.1" y2="1202.5" stroke="#000" stroke-width="2.2" stroke-linecap="butt"/>
<line x1="872.4" y1="1195.5" x2="872.4" y2="1202.5" stroke="#000" stroke-width="2.2" stroke-linecap="butt"/>
<line x1="915.7" y1="1195.5" x2="915.7" y2="1202.5" stroke="#000" stroke-width="2.2" stroke-linecap="butt"/>
<line x1="959" y1="1195.5" x2="959" y2="1202.5" stroke="#000" stroke-width="2.2" stroke-linecap="butt"/>
<text x="0" y="0" font-size="30" fill="#1e1c1f" transform="translate(8.06,665.6) scale(1,1.03)">500</text>
<text x="0" y="0" font-size="30" fill="#1e1c1f" transform="translate(24.24,844.6) scale(1,1.03)">50</text>
<text x="0" y="0" font-size="30" fill="#1e1c1f" transform="translate(40.82,1027.8) scale(1,1.03)">5</text>
<text x="0" y="0" font-size="30" fill="#1e1c1f" transform="translate(17,1208) scale(1,1.03)">0.5</text>
<text x="97.6" y="1231.2" font-size="30" text-anchor="middle" fill="#1e1c1f">Th</text>
<text x="141.7" y="1231.2" font-size="30" text-anchor="middle" fill="#1e1c1f">Nb</text>
<text x="183.9" y="1231.2" font-size="30" text-anchor="middle" fill="#1e1c1f">Ta</text>
<text x="225.8" y="1231.2" font-size="30" text-anchor="middle" fill="#1e1c1f">La</text>
<text x="268.5" y="1231.2" font-size="30" text-anchor="middle" fill="#1e1c1f">Ce</text>
<text x="312.8" y="1231.2" font-size="30" text-anchor="middle" fill="#1e1c1f">Pr</text>
<text x="357.5" y="1231.2" font-size="30" text-anchor="middle" fill="#1e1c1f">Nd</text>
<text x="398.3" y="1231.2" font-size="30" text-anchor="middle" fill="#1e1c1f">Zr</text>
<text x="441.4" y="1231.2" font-size="30" text-anchor="middle" fill="#1e1c1f">Hf</text>
<text x="486.5" y="1231.2" font-size="30" text-anchor="middle" fill="#1e1c1f">Sm</text>
<text x="530.8" y="1231.2" font-size="30" text-anchor="middle" fill="#1e1c1f">Eu</text>
<text x="568.6" y="1231.2" font-size="30" text-anchor="middle" fill="#1e1c1f">Ti</text>
<text x="611.6" y="1231.2" font-size="30" text-anchor="middle" fill="#1e1c1f">Gd</text>
<text x="660.6" y="1231.2" font-size="30" text-anchor="middle" fill="#1e1c1f">Tb</text>
<text x="702.6" y="1231.2" font-size="30" text-anchor="middle" fill="#1e1c1f">Dy</text>
<text x="746.9" y="1231.2" font-size="30" text-anchor="middle" fill="#1e1c1f">Ho</text>
<text x="789.1" y="1231.2" font-size="30" text-anchor="middle" fill="#1e1c1f">Er</text>
<text x="832" y="1231.2" font-size="30" text-anchor="middle" fill="#1e1c1f">Y</text>
<text x="879.2" y="1231.2" font-size="30" text-anchor="middle" fill="#1e1c1f">Tm</text>
<text x="921" y="1231.2" font-size="30" text-anchor="middle" fill="#1e1c1f">Yb</text>
<text x="962.3" y="1231.2" font-size="30" text-anchor="middle" fill="#1e1c1f">Lu</text>
<text x="33.9" y="1033.5" font-size="41.4" font-weight="bold" text-anchor="start" fill="#1e1c1f" transform="rotate(-90 33.9 1033.5)">Rock/PM</text>
<text x="84" y="692.3" font-size="36.6" font-weight="bold" text-anchor="start" fill="#1e1c1f">B</text>
<line x1="63.3" y1="1772.6" x2="73.2" y2="1772.6" stroke="#000" stroke-width="2.2" stroke-linecap="butt"/>
<line x1="65.3" y1="1720.61" x2="73.2" y2="1720.61" stroke="#000" stroke-width="2.2" stroke-linecap="butt"/>
<line x1="65.3" y1="1690.2" x2="73.2" y2="1690.2" stroke="#000" stroke-width="2.2" stroke-linecap="butt"/>
<line x1="65.3" y1="1668.62" x2="73.2" y2="1668.62" stroke="#000" stroke-width="2.2" stroke-linecap="butt"/>
<line x1="65.3" y1="1651.89" x2="73.2" y2="1651.89" stroke="#000" stroke-width="2.2" stroke-linecap="butt"/>
<line x1="65.3" y1="1638.21" x2="73.2" y2="1638.21" stroke="#000" stroke-width="2.2" stroke-linecap="butt"/>
<line x1="65.3" y1="1626.65" x2="73.2" y2="1626.65" stroke="#000" stroke-width="2.2" stroke-linecap="butt"/>
<line x1="65.3" y1="1616.64" x2="73.2" y2="1616.64" stroke="#000" stroke-width="2.2" stroke-linecap="butt"/>
<line x1="65.3" y1="1607.8" x2="73.2" y2="1607.8" stroke="#000" stroke-width="2.2" stroke-linecap="butt"/>
<line x1="63.3" y1="1599.9" x2="73.2" y2="1599.9" stroke="#000" stroke-width="2.2" stroke-linecap="butt"/>
<line x1="65.3" y1="1547.91" x2="73.2" y2="1547.91" stroke="#000" stroke-width="2.2" stroke-linecap="butt"/>
<line x1="65.3" y1="1517.5" x2="73.2" y2="1517.5" stroke="#000" stroke-width="2.2" stroke-linecap="butt"/>
<line x1="65.3" y1="1495.92" x2="73.2" y2="1495.92" stroke="#000" stroke-width="2.2" stroke-linecap="butt"/>
<line x1="65.3" y1="1479.19" x2="73.2" y2="1479.19" stroke="#000" stroke-width="2.2" stroke-linecap="butt"/>
<line x1="65.3" y1="1465.51" x2="73.2" y2="1465.51" stroke="#000" stroke-width="2.2" stroke-linecap="butt"/>
<line x1="65.3" y1="1453.95" x2="73.2" y2="1453.95" stroke="#000" stroke-width="2.2" stroke-linecap="butt"/>
<line x1="65.3" y1="1443.94" x2="73.2" y2="1443.94" stroke="#000" stroke-width="2.2" stroke-linecap="butt"/>
<line x1="65.3" y1="1435.1" x2="73.2" y2="1435.1" stroke="#000" stroke-width="2.2" stroke-linecap="butt"/>
<line x1="63.3" y1="1427.2" x2="73.2" y2="1427.2" stroke="#000" stroke-width="2.2" stroke-linecap="butt"/>
<line x1="65.3" y1="1375.21" x2="73.2" y2="1375.21" stroke="#000" stroke-width="2.2" stroke-linecap="butt"/>
<line x1="65.3" y1="1344.8" x2="73.2" y2="1344.8" stroke="#000" stroke-width="2.2" stroke-linecap="butt"/>
<line x1="65.3" y1="1323.22" x2="73.2" y2="1323.22" stroke="#000" stroke-width="2.2" stroke-linecap="butt"/>
<line x1="65.3" y1="1306.49" x2="73.2" y2="1306.49" stroke="#000" stroke-width="2.2" stroke-linecap="butt"/>
<line x1="65.3" y1="1292.81" x2="73.2" y2="1292.81" stroke="#000" stroke-width="2.2" stroke-linecap="butt"/>
<line x1="65.3" y1="1281.25" x2="73.2" y2="1281.25" stroke="#000" stroke-width="2.2" stroke-linecap="butt"/>
<line x1="65.3" y1="1271.24" x2="73.2" y2="1271.24" stroke="#000" stroke-width="2.2" stroke-linecap="butt"/>
<line x1="65.3" y1="1262.4" x2="73.2" y2="1262.4" stroke="#000" stroke-width="2.2" stroke-linecap="butt"/>
<line x1="63.3" y1="1254.5" x2="73.2" y2="1254.5" stroke="#000" stroke-width="2.2" stroke-linecap="butt"/>
<line x1="73.2" y1="1772.6" x2="73.2" y2="1781.3" stroke="#000" stroke-width="2.2" stroke-linecap="butt"/>
<line x1="164.2" y1="1772.6" x2="164.2" y2="1779.5" stroke="#000" stroke-width="2.2" stroke-linecap="butt"/>
<line x1="217.43" y1="1772.6" x2="217.43" y2="1779.5" stroke="#000" stroke-width="2.2" stroke-linecap="butt"/>
<line x1="255.2" y1="1772.6" x2="255.2" y2="1779.5" stroke="#000" stroke-width="2.2" stroke-linecap="butt"/>
<line x1="284.5" y1="1772.6" x2="284.5" y2="1779.5" stroke="#000" stroke-width="2.2" stroke-linecap="butt"/>
<line x1="308.44" y1="1772.6" x2="308.44" y2="1779.5" stroke="#000" stroke-width="2.2" stroke-linecap="butt"/>
<line x1="328.67" y1="1772.6" x2="328.67" y2="1779.5" stroke="#000" stroke-width="2.2" stroke-linecap="butt"/>
<line x1="346.2" y1="1772.6" x2="346.2" y2="1779.5" stroke="#000" stroke-width="2.2" stroke-linecap="butt"/>
<line x1="361.67" y1="1772.6" x2="361.67" y2="1779.5" stroke="#000" stroke-width="2.2" stroke-linecap="butt"/>
<line x1="375.5" y1="1772.6" x2="375.5" y2="1781.3" stroke="#000" stroke-width="2.2" stroke-linecap="butt"/>
<line x1="466.5" y1="1772.6" x2="466.5" y2="1779.5" stroke="#000" stroke-width="2.2" stroke-linecap="butt"/>
<line x1="519.73" y1="1772.6" x2="519.73" y2="1779.5" stroke="#000" stroke-width="2.2" stroke-linecap="butt"/>
<line x1="557.5" y1="1772.6" x2="557.5" y2="1779.5" stroke="#000" stroke-width="2.2" stroke-linecap="butt"/>
<line x1="586.8" y1="1772.6" x2="586.8" y2="1779.5" stroke="#000" stroke-width="2.2" stroke-linecap="butt"/>
<line x1="610.74" y1="1772.6" x2="610.74" y2="1779.5" stroke="#000" stroke-width="2.2" stroke-linecap="butt"/>
<line x1="630.97" y1="1772.6" x2="630.97" y2="1779.5" stroke="#000" stroke-width="2.2" stroke-linecap="butt"/>
<line x1="648.5" y1="1772.6" x2="648.5" y2="1779.5" stroke="#000" stroke-width="2.2" stroke-linecap="butt"/>
<line x1="663.97" y1="1772.6" x2="663.97" y2="1779.5" stroke="#000" stroke-width="2.2" stroke-linecap="butt"/>
<line x1="677.8" y1="1772.6" x2="677.8" y2="1781.3" stroke="#000" stroke-width="2.2" stroke-linecap="butt"/>
<line x1="768.8" y1="1772.6" x2="768.8" y2="1779.5" stroke="#000" stroke-width="2.2" stroke-linecap="butt"/>
<line x1="822.03" y1="1772.6" x2="822.03" y2="1779.5" stroke="#000" stroke-width="2.2" stroke-linecap="butt"/>
<line x1="859.8" y1="1772.6" x2="859.8" y2="1779.5" stroke="#000" stroke-width="2.2" stroke-linecap="butt"/>
<line x1="889.1" y1="1772.6" x2="889.1" y2="1779.5" stroke="#000" stroke-width="2.2" stroke-linecap="butt"/>
<line x1="913.04" y1="1772.6" x2="913.04" y2="1779.5" stroke="#000" stroke-width="2.2" stroke-linecap="butt"/>
<line x1="933.27" y1="1772.6" x2="933.27" y2="1779.5" stroke="#000" stroke-width="2.2" stroke-linecap="butt"/>
<line x1="950.8" y1="1772.6" x2="950.8" y2="1779.5" stroke="#000" stroke-width="2.2" stroke-linecap="butt"/>
<line x1="966.27" y1="1772.6" x2="966.27" y2="1779.5" stroke="#000" stroke-width="2.2" stroke-linecap="butt"/>
<line x1="980.1" y1="1772.6" x2="980.1" y2="1781.3" stroke="#000" stroke-width="2.2" stroke-linecap="butt"/>
<line x1="92" y1="1772.6" x2="961.5" y2="1253.6" stroke="#000" stroke-width="2.6" stroke-linecap="butt"/>
<line x1="216" y1="1772.6" x2="980.7" y2="1314.5" stroke="#000" stroke-width="2.6" stroke-linecap="butt"/>
<rect x="73.2" y="1254" width="907.5" height="518.5999999999999" fill="none" stroke="#000" stroke-width="2.8"/>
<polygon points="30.63,1267.2 33.63,1267.2 33.63,1244.8 31.98,1244.8 25.74,1250.3 25.98,1252.68 30.63,1249.28" fill="#1e1c1f"/>
<text x="0" y="0" font-size="30" fill="#1e1c1f" transform="translate(39.12,1267.2) scale(1,1.03)">0</text>
<polygon points="44.86,1433.6 47.86,1433.6 47.86,1411.2 46.21,1411.2 39.97,1416.7 40.21,1419.08 44.86,1415.68" fill="#1e1c1f"/>
<text x="0" y="0" font-size="30" fill="#1e1c1f" transform="translate(17.5,1610.8) scale(1,1.03)">0.</text>
<polygon points="50.71,1610.8 53.71,1610.8 53.71,1588.4 52.06,1588.4 45.82,1593.9 46.06,1596.28 50.71,1592.88" fill="#1e1c1f"/>
<text x="0" y="0" font-size="30" fill="#1e1c1f" transform="translate(4.27,1777.4) scale(1,1.03)">0.0</text>
<polygon points="54.16,1777.4 57.16,1777.4 57.16,1755 55.51,1755 49.27,1760.5 49.51,1762.88 54.16,1759.48" fill="#1e1c1f"/>
<text x="0" y="0" font-size="30" fill="#1e1c1f" transform="translate(60.55,1808.8) scale(1,1.03)">0.</text>
<polygon points="93.76,1808.8 96.76,1808.8 96.76,1786.4 95.11,1786.4 88.87,1791.9 89.11,1794.28 93.76,1790.88" fill="#1e1c1f"/>
<polygon points="375.25,1808.4 378.25,1808.4 378.25,1786 376.6,1786 370.36,1791.5 370.6,1793.88 375.25,1790.48" fill="#1e1c1f"/>
<polygon points="671.41,1807.4 674.41,1807.4 674.41,1785 672.76,1785 666.52,1790.5 666.76,1792.88 671.41,1789.48" fill="#1e1c1f"/>
<text x="0" y="0" font-size="30" fill="#1e1c1f" transform="translate(679.9,1807.4) scale(1,1.03)">0</text>
<polygon points="955.07,1809.5 958.07,1809.5 958.07,1787.1 956.42,1787.1 950.18,1792.6 950.42,1794.98 955.07,1791.58" fill="#1e1c1f"/>
<text x="0" y="0" font-size="30" fill="#1e1c1f" transform="translate(963.56,1809.5) scale(1,1.03)">00</text>
<text x="0" y="0" font-size="42" font-weight="bold" text-anchor="middle" fill="#1e1c1f" transform="translate(527,1839.8) scale(1.01,1)">Nb/Yb</text>
<text x="31.5" y="1559.8" font-size="41.6" font-weight="bold" text-anchor="start" fill="#1e1c1f" transform="rotate(-90 31.5 1559.8)">Th/Yb</text>
<text x="85" y="1294.4" font-size="36.6" font-weight="bold" text-anchor="start" fill="#1e1c1f">C</text>
<text x="105" y="1445" font-size="36.5" text-anchor="start" fill="#1e1c1f" transform="rotate(-31 105 1445)">Volcanic arc array</text>
<text x="313" y="1753" font-size="35" text-anchor="start" fill="#1e1c1f" transform="rotate(-32 313 1753)">N-MORB</text>
<text x="529" y="1622" font-size="35" text-anchor="start" fill="#1e1c1f" transform="rotate(-32 529 1622)">E-MORB</text>
<text x="508" y="1698.5" font-size="35" text-anchor="start" fill="#1e1c1f" transform="rotate(-32 508 1698.5)">MORB-OIB array</text>
<text x="795" y="1463" font-size="35" text-anchor="start" fill="#1e1c1f" transform="rotate(-32 795 1463)">OIB</text>
<polygon points="343.3,1656.4 355.08,1663.2 355.08,1676.8 343.3,1683.6 331.52,1676.8 331.52,1663.2" fill="#ff0000" stroke="#1a1a1a" stroke-width="2.4" stroke-linejoin="miter"/>
<polygon points="541.4,1517.7 553.18,1524.5 553.18,1538.1 541.4,1544.9 529.62,1538.1 529.62,1524.5" fill="#ff0000" stroke="#1a1a1a" stroke-width="2.4" stroke-linejoin="miter"/>
<polygon points="784,1372 795.78,1378.8 795.78,1392.4 784,1399.2 772.22,1392.4 772.22,1378.8" fill="#ff0000" stroke="#1a1a1a" stroke-width="2.4" stroke-linejoin="miter"/>
<circle cx="467.3" cy="1578.5" r="15" fill="#d9d9d9" stroke="#000" stroke-width="2.8"/>
<circle cx="560.2" cy="1515.9" r="15" fill="#d9d9d9" stroke="#000" stroke-width="2.8"/>
<circle cx="602.6" cy="1493.2" r="15" fill="#d9d9d9" stroke="#000" stroke-width="2.8"/>
<circle cx="609.8" cy="1503.1" r="15" fill="#d9d9d9" stroke="#000" stroke-width="2.8"/>
<circle cx="618.9" cy="1485" r="15" fill="#d9d9d9" stroke="#000" stroke-width="2.8"/>
<circle cx="626.1" cy="1487.7" r="15" fill="#d9d9d9" stroke="#000" stroke-width="2.8"/>
<circle cx="647.8" cy="1477.8" r="15" fill="#d9d9d9" stroke="#000" stroke-width="2.8"/>
<circle cx="653.3" cy="1454.3" r="15" fill="#d9d9d9" stroke="#000" stroke-width="2.8"/>
<circle cx="656" cy="1468.7" r="15" fill="#d9d9d9" stroke="#000" stroke-width="2.8"/>
<circle cx="677.7" cy="1447.9" r="15" fill="#d9d9d9" stroke="#000" stroke-width="2.8"/>
<circle cx="664.1" cy="1457.9" r="15" fill="#d9d9d9" stroke="#000" stroke-width="2.8"/>
<circle cx="672.3" cy="1463.5" r="15" fill="#d9d9d9" stroke="#000" stroke-width="2.8"/>
<circle cx="724.7" cy="1439.8" r="15" fill="#d9d9d9" stroke="#000" stroke-width="2.8"/>
<circle cx="732" cy="1438.9" r="15" fill="#d9d9d9" stroke="#000" stroke-width="2.8"/>
<circle cx="728.3" cy="1432.6" r="15" fill="#d9d9d9" stroke="#000" stroke-width="2.8"/>
<circle cx="751.9" cy="1418.1" r="15" fill="#d9d9d9" stroke="#000" stroke-width="2.8"/>
<circle cx="757.8" cy="1414" r="15" fill="#d9d9d9" stroke="#000" stroke-width="2.8"/>
<circle cx="765" cy="1404.9" r="15" fill="#d9d9d9" stroke="#000" stroke-width="2.8"/>
<circle cx="794.9" cy="1374.2" r="15" fill="#d9d9d9" stroke="#000" stroke-width="2.8"/>
<circle cx="699.4" cy="1446.1" r="15" fill="#8bd46f" stroke="#000" stroke-width="2.8"/>
<circle cx="703" cy="1419.9" r="15" fill="#8bd46f" stroke="#000" stroke-width="2.8"/>
<circle cx="716.6" cy="1420.8" r="15" fill="#8bd46f" stroke="#000" stroke-width="2.8"/>
<circle cx="743.7" cy="1404.5" r="15" fill="#8bd46f" stroke="#000" stroke-width="2.8"/>
<circle cx="768.6" cy="1385" r="15" fill="#8bd46f" stroke="#000" stroke-width="2.8"/>
<circle cx="830.1" cy="1328" r="15" fill="#8bd46f" stroke="#000" stroke-width="2.8"/>
<circle cx="819.7" cy="1336.2" r="15" fill="#8bd46f" stroke="#000" stroke-width="2.8"/>
<path d="M527.3,1313.4 L542.1,1328.2 L527.3,1343 L512.5,1328.2 Z" fill="#fde564" stroke="#000" stroke-width="3" stroke-linejoin="miter"/>
<path d="M515.1,1297.4 L529.9,1312.2 L515.1,1327 L500.3,1312.2 Z" fill="#fde564" stroke="#000" stroke-width="3" stroke-linejoin="miter"/>
<path d="M539.8,1311 L554.6,1325.8 L539.8,1340.6 L525,1325.8 Z" fill="#fde564" stroke="#000" stroke-width="3" stroke-linejoin="miter"/>
<path d="M419.6,1357.1 L434.4,1371.9 L419.6,1386.7 L404.8,1371.9 Z" fill="#fde564" stroke="#000" stroke-width="3" stroke-linejoin="miter"/>
<circle cx="637.7" cy="1698.5" r="14.5" fill="#fff" stroke="#000" stroke-width="4"/>
<path d="M637.7,1729.2 L651.9,1743.4 L637.7,1757.6 L623.5,1743.4 Z" fill="#fff" stroke="#000" stroke-width="4" stroke-linejoin="miter"/>
<text x="661" y="1710.4" font-size="41.5" text-anchor="start" fill="#1e1c1f">OIB-like rocks</text>
<text x="665.5" y="1752.1" font-size="41.5" text-anchor="start" fill="#1e1c1f">Tuffaceous beds</text>
</svg>
</body></html>
